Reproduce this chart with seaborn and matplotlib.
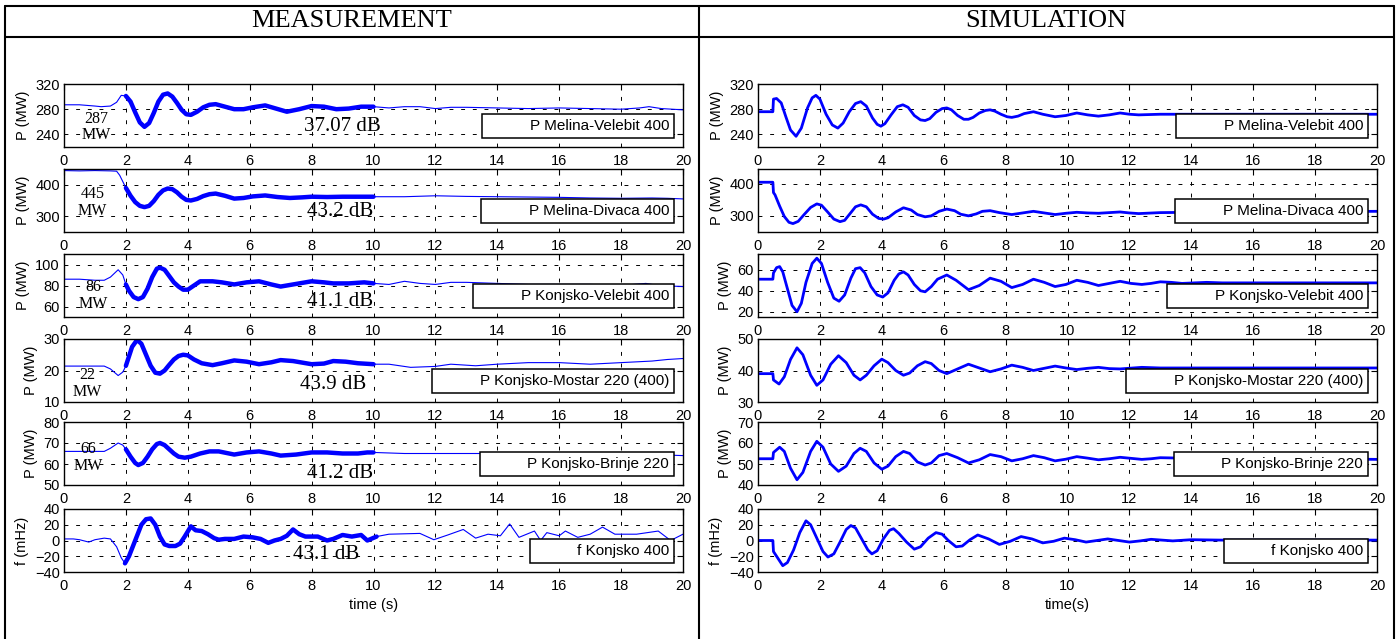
import matplotlib
matplotlib.use("Agg")

import pandas as pd
import matplotlib.pyplot as plt
import seaborn as sns
from matplotlib.lines import Line2D


# ---------------- measurement (thin = whole record, thick = 2..10 s) -------
meas1_t = [0, 0.5, 1.0, 1.2, 1.5, 1.7, 1.85, 2.0, 2.15, 2.3, 2.45, 2.6, 2.75, 2.9, 3.05, 3.2,
           3.35, 3.5, 3.65, 3.8, 3.95, 4.1, 4.3, 4.5, 4.7, 4.9, 5.2, 5.5, 5.8, 6.1, 6.5, 6.85,
           7.2, 7.6, 8.0, 8.4, 8.8, 9.2, 9.6, 10.0, 10.5, 11.0, 11.5, 12.0, 12.5, 13.0, 14.0, 15.0,
           16.0, 17.0, 18.0, 18.6, 18.9, 19.3, 20.0]
meas1_v = [287, 287, 285, 284, 285, 291, 302, 301, 292, 275, 259, 252, 258, 274, 292, 303,
           305, 300, 290, 279, 272, 271, 276, 283, 287, 288, 284, 280, 280, 283, 286, 281,
           276, 280, 285, 284, 280, 281, 284, 284, 282, 284, 284, 281, 283, 283, 282, 281,
           282, 281, 280, 282, 284, 281, 279]

meas2_t = [0, 0.5, 1.0, 1.5, 1.7, 1.8, 1.9, 2.0, 2.15, 2.3, 2.45, 2.6, 2.75, 2.9, 3.05, 3.2,
           3.35, 3.5, 3.65, 3.8, 3.95, 4.1, 4.3, 4.5, 4.7, 4.9, 5.2, 5.5, 5.8, 6.1, 6.5, 6.9,
           7.3, 7.7, 8.0, 8.5, 9.0, 9.5, 10.0, 11.0, 12.0, 13.0, 14.0, 15.0, 16.0, 17.0, 18.0, 19.0,
           19.5, 20.0]
meas2_v = [445, 444, 445, 444, 443, 430, 410, 390, 365, 345, 333, 329, 333, 348, 368, 382,
           388, 386, 376, 362, 352, 350, 355, 364, 370, 372, 365, 356, 358, 363, 366, 361,
           358, 360, 362, 361, 362, 362, 362, 362, 365, 363, 362, 361, 360, 358, 357, 358,
           357, 355]

meas3_t = [0, 0.5, 1.0, 1.3, 1.5, 1.75, 1.9, 2.0, 2.1, 2.25, 2.4, 2.55, 2.7, 2.85, 3.0, 3.1,
           3.25, 3.4, 3.55, 3.7, 3.85, 4.0, 4.2, 4.4, 4.6, 4.8, 5.1, 5.5, 5.9, 6.3, 6.7, 7.0,
           7.4, 7.8, 8.0, 8.4, 8.7, 9.2, 9.7, 10.0, 10.5, 11.0, 11.5, 12.0, 12.5, 13.0, 14.0, 15.0,
           16.0, 17.0, 18.0, 18.8, 19.2, 20.0]
meas3_v = [86, 86, 85, 85, 88, 95, 90, 81, 75, 69, 67, 69, 77, 88, 96, 97,
           95, 89, 83, 79, 76, 76, 80, 84, 84, 84, 83, 81, 83, 84, 81, 79,
           81, 83, 84, 83, 82, 82, 83, 82, 81, 84, 82, 81, 83, 83, 82, 81,
           81, 81, 80, 82, 80, 79]

meas4_t = [0, 0.5, 1.0, 1.3, 1.5, 1.75, 1.9, 2.0, 2.1, 2.2, 2.36, 2.5, 2.65, 2.8, 2.95, 3.1,
           3.25, 3.4, 3.55, 3.7, 3.85, 4.0, 4.2, 4.45, 4.8, 5.1, 5.5, 5.9, 6.3, 6.7, 7.0, 7.4,
           8.0, 8.4, 8.7, 9.1, 9.5, 10.0, 10.5, 11.2, 12.0, 12.5, 13.3, 14.0, 15.0, 16.0, 17.0, 18.0,
           19.0, 19.5, 20.0]
meas4_v = [21.4, 21.4, 21.4, 21.4, 20.5, 18.4, 19.5, 21.5, 24.5, 27.5, 29.7, 28.5, 25, 21.5, 19.3, 19,
           20, 21.8, 23.5, 24.6, 25, 24.8, 23.5, 22.3, 21.7, 22.3, 23.2, 22.8, 22, 22.6, 23.3, 23,
           22, 22.2, 23, 22.8, 22.3, 22, 22, 21, 21.3, 22, 21.5, 22, 22.5, 22.5, 22, 22.5,
           23, 23.5, 23.8]

meas5_t = [0, 0.5, 1.0, 1.3, 1.5, 1.75, 1.9, 2.0, 2.15, 2.3, 2.4, 2.55, 2.7, 2.85, 3.0, 3.1,
           3.25, 3.4, 3.55, 3.7, 3.9, 4.1, 4.4, 4.7, 5.0, 5.5, 5.9, 6.3, 6.7, 7.0, 7.5, 8.0,
           8.5, 9.0, 9.5, 9.8, 10.0, 11.0, 12.0, 13.0, 14.0, 15.0, 16.0, 17.0, 18.0, 19.0, 20.0]
meas5_v = [66, 66, 66, 66, 67.5, 70, 69, 67, 63.5, 60.5, 59.5, 60.5, 63.5, 67, 69.5, 70,
           69, 67, 65, 63.5, 63, 63.5, 65, 66, 66, 64.5, 65.5, 66, 65, 64, 64.5, 65.5,
           65.5, 65, 65, 65.5, 65.5, 65, 65, 65, 65, 64.5, 65, 64.5, 64.5, 64.5, 64]

meas6_t = [0, 0.3, 0.5, 0.8, 1.0, 1.3, 1.5, 1.7, 1.85, 1.97, 2.1, 2.3, 2.5, 2.65, 2.8, 2.95,
           3.1, 3.25, 3.4, 3.6, 3.75, 3.9, 4.1, 4.25, 4.45, 4.65, 4.85, 5.0, 5.2, 5.5, 5.8, 6.1,
           6.35, 6.6, 6.8, 7.0, 7.2, 7.4, 7.6, 7.8, 8.2, 8.5, 8.7, 9.0, 9.3, 9.6, 9.8, 10.1,
           10.5, 11.5, 11.95, 12.4, 12.9, 13.3, 13.7, 14.1, 14.4, 14.7, 15.2, 15.4, 15.6, 16.0, 16.2, 16.6,
           17.0, 17.4, 17.8, 18.5, 19.2, 19.6, 20.0]
meas6_v = [2, 2, 1, -2, 1, 3, 2, -8, -22, -29, -20, 0, 20, 27, 28, 20,
           5, -5, -7, -7, -4, 5, 18, 13, 12, 8, 3, 1, 2, 2, 5, 4,
           2, -3, 0, 2, 6, 14, 8, 5, 5, 0, 2, 7, 5, 7, 0, 5,
           8, 9, 1, 7, 14, 3, 8, 6, 21, 4, 12, 0, 10, 6, 12, 4,
           8, 17, 8, 8, 12, 0, 8]

# ---------------- simulation ------------------------------------------------
sim1_t = [0, 0.48, 0.5, 0.6, 0.75, 0.9, 1.05, 1.23, 1.4, 1.6, 1.75, 1.87, 2.0, 2.2, 2.4, 2.58,
          2.75, 2.95, 3.15, 3.32, 3.5, 3.7, 3.85, 3.97, 4.1, 4.3, 4.5, 4.68, 4.85, 5.05, 5.25, 5.4,
          5.55, 5.75, 5.95, 6.1, 6.25, 6.45, 6.65, 6.8, 6.95, 7.15, 7.35, 7.5, 7.65, 7.85, 8.05, 8.2,
          8.4, 8.6, 8.9, 9.2, 9.6, 9.95, 10.3, 10.65, 11.0, 11.35, 11.7, 12.0, 12.3, 13.0, 14.0, 16.0,
          18.0, 20.0]
sim1_v = [276, 276, 296, 297, 290, 268, 247, 237, 250, 282, 298, 302, 296, 272, 255, 250,
          258, 276, 289, 292, 285, 266, 256, 253, 257, 271, 284, 287, 283, 270, 263, 262,
          265, 275, 281, 282, 279, 270, 264, 264, 267, 274, 278, 279, 277, 272, 268, 267,
          269, 273, 276, 272, 268, 270, 274, 271, 269, 271, 274, 272, 271, 272, 272, 272,
          272, 272]

sim2_t = [0, 0.48, 0.5, 0.55, 0.7, 0.85, 1.0, 1.13, 1.3, 1.5, 1.7, 1.9, 2.05, 2.25, 2.45, 2.65,
          2.8, 3.0, 3.15, 3.32, 3.5, 3.7, 3.9, 4.06, 4.2, 4.45, 4.7, 4.95, 5.15, 5.4, 5.6, 5.85,
          6.1, 6.35, 6.55, 6.8, 7.05, 7.25, 7.5, 7.8, 8.2, 8.55, 8.9, 9.25, 9.6, 9.95, 10.3, 10.65,
          11.0, 11.35, 11.7, 12.0, 12.3, 13.0, 14.0, 16.0, 18.0, 20.0]
sim2_v = [404, 404, 372, 365, 330, 298, 280, 276, 283, 305, 326, 337, 333, 312, 290, 282,
          286, 310, 328, 334, 328, 305, 292, 290, 294, 312, 325, 318, 304, 297, 300, 314,
          321, 316, 305, 300, 306, 314, 316, 310, 304, 309, 314, 309, 304, 308, 311, 309,
          308, 310, 312, 309, 307, 310, 311, 312, 313, 314]

sim3_t = [0, 0.48, 0.5, 0.6, 0.7, 0.8, 0.95, 1.1, 1.26, 1.4, 1.55, 1.75, 1.9, 2.05, 2.25, 2.45,
          2.62, 2.8, 3.0, 3.15, 3.3, 3.45, 3.65, 3.85, 4.03, 4.2, 4.4, 4.55, 4.7, 4.85, 5.05, 5.25,
          5.4, 5.6, 5.8, 6.1, 6.4, 6.8, 7.15, 7.5, 7.85, 8.2, 8.55, 8.9, 9.25, 9.6, 9.95, 10.3,
          10.65, 11.0, 11.35, 11.7, 12.05, 12.4, 12.7, 13.0, 13.35, 13.7, 14.1, 14.5, 15.0, 16.0, 17.0, 18.0,
          19.0, 20.0]
sim3_v = [51, 51, 57, 62, 63, 58, 42, 26, 20, 28, 48, 66, 71, 66, 48, 33,
          30, 36, 52, 61, 62, 57, 44, 36, 34, 38, 50, 56, 58, 55, 46, 40,
          39, 44, 51, 55, 50, 41, 45, 52, 49, 43, 46, 51, 48, 44, 46, 50,
          48, 45, 47, 49, 47, 46, 47, 48.5, 48, 47, 47.5, 48, 47.5, 47.5, 47.5, 47.5,
          47.5, 47.5]

sim4_t = [0, 0.48, 0.5, 0.68, 0.85, 1.05, 1.26, 1.45, 1.7, 1.9, 2.1, 2.35, 2.6, 2.85, 3.1, 3.3,
          3.5, 3.75, 4.0, 4.2, 4.45, 4.7, 4.9, 5.15, 5.4, 5.6, 5.85, 6.1, 6.45, 6.8, 7.15, 7.5,
          7.85, 8.2, 8.55, 8.9, 9.25, 9.6, 9.95, 10.3, 10.65, 11.0, 11.35, 11.7, 12.4, 13.0, 14.0, 16.0,
          18.0, 20.0]
sim4_v = [39, 39, 37, 35.7, 38, 43.5, 47.2, 45, 38.5, 35.3, 37, 42, 44.7, 42.5, 38.5, 37,
          38.5, 41.5, 43.6, 42.5, 40, 38.5, 39.2, 41.5, 42.8, 42.2, 40, 39, 40.5, 42, 40.8, 39.6,
          40.5, 41.7, 41, 40, 40.7, 41.4, 40.8, 40.3, 40.7, 41, 40.6, 40.5, 41, 40.8, 40.8, 40.8,
          40.8, 40.8]

sim5_t = [0, 0.48, 0.5, 0.7, 0.85, 1.05, 1.26, 1.45, 1.7, 1.9, 2.1, 2.35, 2.6, 2.85, 3.1, 3.3,
          3.5, 3.75, 4.0, 4.2, 4.45, 4.7, 4.9, 5.15, 5.4, 5.6, 5.85, 6.1, 6.45, 6.8, 7.15, 7.5,
          7.85, 8.2, 8.55, 8.9, 9.25, 9.6, 9.95, 10.3, 10.65, 11.0, 11.35, 11.7, 12.05, 12.4, 12.7, 13.0,
          14.0, 16.0, 18.0, 20.0]
sim5_v = [52.5, 52.5, 55.5, 58, 56, 48, 42.5, 46, 56, 60.8, 58, 50, 46.5, 49, 55, 57.5,
          56, 50.5, 47.5, 49, 53.5, 56, 55, 51, 49.5, 50.5, 54, 55, 53, 50.5, 52, 54.5,
          53.5, 51.5, 52.5, 54, 53, 51.5, 52.3, 53.5, 52.8, 52, 52.5, 53.2, 52.7, 52.2, 52.5, 53,
          52.7, 52.5, 52.5, 52.2]

sim6_t = [0, 0.48, 0.5, 0.6, 0.8, 0.95, 1.15, 1.35, 1.55, 1.7, 1.9, 2.1, 2.26, 2.45, 2.65, 2.85,
          3.0, 3.15, 3.35, 3.55, 3.68, 3.85, 4.05, 4.25, 4.38, 4.55, 4.8, 5.05, 5.25, 5.5, 5.75, 5.95,
          6.15, 6.4, 6.6, 6.85, 7.1, 7.45, 7.8, 8.15, 8.5, 8.85, 9.2, 9.55, 9.9, 10.25, 10.6, 10.95,
          11.3, 11.65, 12.0, 12.35, 12.7, 13.05, 13.4, 14.0, 15.0, 16.0, 18.0, 20.0]
sim6_v = [0, 0, -14, -20, -32, -28, -12, 10, 25, 20, 3, -14, -21, -17, -2, 14,
          19, 16, 2, -12, -17, -13, 2, 13, 15, 9, -2, -11, -8, 3, 10, 8,
          0, -8, -7, 1, 7, 2, -5, -1, 5, 2, -3, -1, 3, 1,
          -2, 0, 2, 0, -2, -0.5, 1.5, 0.5, -0.5, 1, 0.5, 0.5, 0.5, 0.5]

# ---------------- labels / axes ---------------------------------------------
panel_names = ["P Melina-Velebit 400", "P Melina-Divaca 400", "P Konjsko-Velebit 400",
               "P Konjsko-Mostar 220 (400)", "P Konjsko-Brinje 220", "f Konjsko 400"]
ylabels = ["P (MW)"] * 5 + ["f (mHz)"]
meas_ylims = [(220, 320), (250, 450), (50, 110), (10, 30), (50, 80), (-40, 40)]
meas_yticks = [[240, 280, 320], [300, 400], [60, 80, 100], [10, 20, 30], [50, 60, 70, 80],
               [-40, -20, 0, 20, 40]]
sim_ylims = [(220, 320), (250, 445), (15, 75), (30, 50), (40, 70), (-40, 40)]
sim_yticks = [[240, 280, 320], [300, 400], [20, 40, 60], [30, 40, 50], [40, 50, 60, 70],
              [-40, -20, 0, 20, 40]]
damping_db = ["37.07 dB", "43.2 dB", "41.1 dB", "43.9 dB", "41.2 dB", "43.1 dB"]
initial_mw = ["287\nMW", "445\nMW", "86\nMW", "22\nMW", "66\nMW", None]
xticks = list(range(0, 21, 2))

meas = [(meas1_t, meas1_v), (meas2_t, meas2_v), (meas3_t, meas3_v),
        (meas4_t, meas4_v), (meas5_t, meas5_v), (meas6_t, meas6_v)]
sims = [(sim1_t, sim1_v), (sim2_t, sim2_v), (sim3_t, sim3_v),
        (sim4_t, sim4_v), (sim5_t, sim5_v), (sim6_t, sim6_v)]

# layout (pixels of the 1399x639 picture)
W, H = 1399, 639
row_tops = [84, 169, 254, 339, 422, 509]
row_h = 63
col_left = [64, 758]
col_w = 619
db_pos = [(0.45, 0.32), (0.446, 0.33), (0.446, 0.25), (0.435, 0.27), (0.446, 0.19), (0.423, 0.27)]
mw_pos = [(0.052, 0.32), (0.046, 0.47), (0.047, 0.34), (0.038, 0.29), (0.039, 0.44)]

BLUE = "#0000ff"

sns.set_theme(style="white")
plt.rcParams["font.family"] = ["Liberation Sans", "DejaVu Sans"]
plt.rcParams["axes.edgecolor"] = "black"
plt.rcParams["axes.linewidth"] = 1.0
plt.rcParams["text.color"] = "black"
plt.rcParams["axes.labelcolor"] = "black"
plt.rcParams["xtick.color"] = "black"
plt.rcParams["ytick.color"] = "black"
plt.rcParams["xtick.labelcolor"] = "black"
plt.rcParams["ytick.labelcolor"] = "black"
SERIF = ["Liberation Serif", "DejaVu Serif"]

fig = plt.figure(figsize=(W / 100, H / 100), dpi=100)
fig.patch.set_facecolor("white")


def px_box(left, top, width, height):
    return [left / W, 1 - (top + height) / H, width / W, height / H]


def style_axes(ax, ylim, yticks, ylabel):
    ax.set_xlim(0, 20)
    ax.set_ylim(*ylim)
    ax.set_xticks(xticks)
    ax.set_yticks(yticks)
    ax.tick_params(direction="in", length=4, width=0.8, top=True, right=True,
                   labelsize=10.5, colors="black", labelcolor="black", pad=3)
    ax.tick_params(axis="x", pad=5)
    ax.grid(True, color="black", linestyle=(0, (4, 8)), linewidth=0.7)
    ax.set_axisbelow(True)
    ax.set_ylabel(ylabel, fontsize=10.5, labelpad=4, color="black")
    ax.set_xlabel("")
    for s in ax.spines.values():
        s.set_color("black")
        s.set_linewidth(1.0)


def add_box(ax, name):
    dummy = Line2D([], [], color="none")
    leg = ax.legend([dummy], [name], loc="lower right", bbox_to_anchor=(0.985, 0.15),
                    borderaxespad=0, handlelength=2.2, handletextpad=0.6, borderpad=0.3,
                    fancybox=False, framealpha=1, edgecolor="black", fontsize=11,
                    labelcolor="black")
    leg.get_frame().set_linewidth(1.1)


for i in range(6):
    # measurement column
    ax = fig.add_axes(px_box(col_left[0], row_tops[i], col_w, row_h))
    df = pd.DataFrame({"t": meas[i][0], "v": meas[i][1]})
    sns.lineplot(data=df, x="t", y="v", ax=ax, color=BLUE, linewidth=0.8,
                 estimator=None, sort=False)
    seg = df[(df["t"] >= 1.95) & (df["t"] <= 10.1)]
    sns.lineplot(data=seg, x="t", y="v", ax=ax, color=BLUE, linewidth=3.2,
                 estimator=None, sort=False)
    style_axes(ax, meas_ylims[i], meas_yticks[i], ylabels[i])
    add_box(ax, panel_names[i])
    ax.text(db_pos[i][0], db_pos[i][1], damping_db[i], transform=ax.transAxes,
            ha="center", va="center", fontsize=15, family=SERIF, color="black")
    if initial_mw[i]:
        ax.text(mw_pos[i][0], mw_pos[i][1], initial_mw[i], transform=ax.transAxes,
                ha="center", va="center", fontsize=11.5, family=SERIF, color="black",
                linespacing=1.05)
    if i == 5:
        ax.set_xlabel("time (s)", fontsize=10.5, color="black")

    # simulation column
    ax = fig.add_axes(px_box(col_left[1], row_tops[i], col_w, row_h))
    ds = pd.DataFrame({"t": sims[i][0], "v": sims[i][1]})
    sns.lineplot(data=ds, x="t", y="v", ax=ax, color=BLUE, linewidth=2.0,
                 estimator=None, sort=False)
    style_axes(ax, sim_ylims[i], sim_yticks[i], ylabels[i])
    add_box(ax, panel_names[i])
    if i == 5:
        ax.set_xlabel("time(s)", fontsize=10.5, color="black")

# table frame around the two columns
frame = dict(color="black", linewidth=1.5, transform=fig.transFigure)
fig.add_artist(Line2D([5 / W, 1394 / W], [1 - 6 / H, 1 - 6 / H], **frame))
fig.add_artist(Line2D([5 / W, 1394 / W], [1 - 37 / H, 1 - 37 / H], **frame))
fig.add_artist(Line2D([5 / W, 5 / W], [0, 1 - 6 / H], **frame))
fig.add_artist(Line2D([1394 / W, 1394 / W], [0, 1 - 6 / H], **frame))
fig.add_artist(Line2D([699 / W, 699 / W], [0, 1 - 6 / H], **frame))

fig.text(352 / W, 1 - 21 / H, "MEASUREMENT", ha="center", va="center",
         fontsize=19, family=SERIF, color="black")
fig.text(1046 / W, 1 - 21 / H, "SIMULATION", ha="center", va="center",
         fontsize=19, family=SERIF, color="black")

fig.savefig("out.png", dpi=100, facecolor="white")
